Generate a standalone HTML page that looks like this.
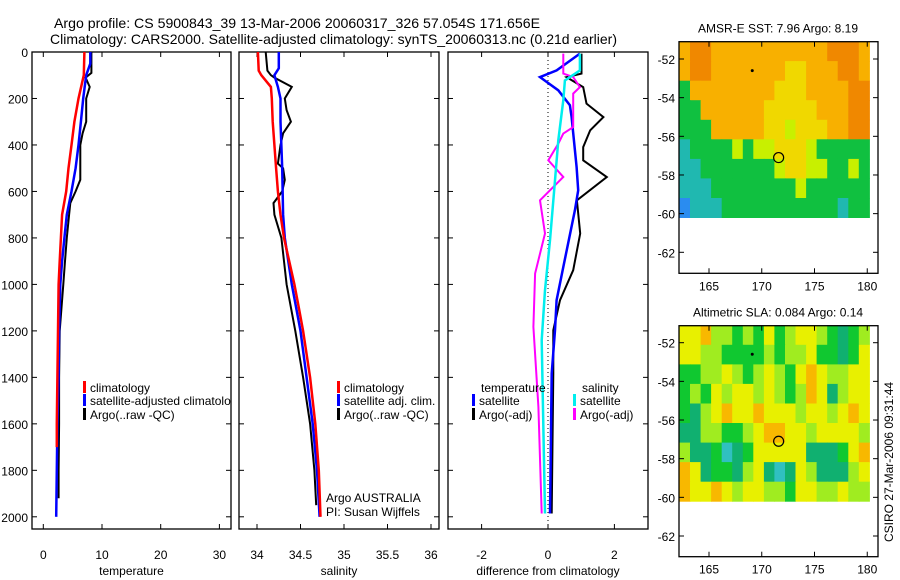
<!DOCTYPE html>
<html><head><meta charset="utf-8"><style>
body{margin:0;background:#fff;}
svg{display:block;font-family:"Liberation Sans",sans-serif;}
</style></head><body>
<svg id="fig" width="900" height="580" viewBox="0 0 900 580" xmlns="http://www.w3.org/2000/svg">
<defs><clipPath id="clip1"><rect x="32" y="52" width="199" height="477"/></clipPath></defs>
<text x="54" y="28" font-size="14" textLength="486" lengthAdjust="spacingAndGlyphs">Argo profile: CS 5900843_39 13-Mar-2006 20060317_326 57.054S 171.656E</text>
<text x="50" y="44" font-size="14" textLength="567" lengthAdjust="spacingAndGlyphs">Climatology: CARS2000. Satellite-adjusted climatology: synTS_20060313.nc (0.21d earlier)</text>
<text x="893" y="462" font-size="12" transform="rotate(-90 893 462)" text-anchor="middle">CSIRO 27-Mar-2006 09:31:44</text>
<g id="g"></g>
</svg>
<script>
// ---- profile data (depth in dbar) ----
const redTD=[0,100,200,300,400,500,600,700,800,900,1000,1200,1400,1600,1700];
const redT=[7.0,6.9,6.0,5.3,4.8,4.3,3.9,3.2,3.0,2.8,2.6,2.5,2.4,2.3,2.3];
const blueTD=[0,50,100,200,300,400,500,600,700,800,900,1000,1200,1400,1600,1800,2000];
const blueT=[8.0,8.0,7.3,6.8,6.4,6.0,5.5,4.8,4.0,3.6,3.2,2.9,2.7,2.6,2.4,2.3,2.2];
const blackTD=[0,90,110,150,200,300,350,400,500,550,600,650,700,800,900,1000,1200,1400,1600,1800,1920];
const blackT=[8.2,8.2,7.2,7.9,7.3,7.3,6.7,6.3,6.3,6.3,5.5,4.6,4.4,4.0,3.7,3.4,2.8,2.7,2.7,2.6,2.6];
const redSD=[0,80,100,150,200,300,400,500,600,700,800,900,1000,1100,1200,1400,1600,1800,2000];
const redS=[34.01,34.02,34.05,34.16,34.17,34.18,34.2,34.22,34.24,34.27,34.31,34.37,34.43,34.48,34.53,34.61,34.67,34.71,34.73];
const blueSD=[0,70,100,150,200,300,500,700,800,900,1000,1200,1400,1600,1800,2000];
const blueS=[34.25,34.25,34.2,34.24,34.27,34.27,34.29,34.3,34.32,34.36,34.4,34.5,34.57,34.64,34.69,34.72];
const blackSD=[0,80,100,110,150,200,250,300,350,400,480,500,550,600,650,700,800,900,1000,1200,1400,1600,1800,1950];
const blackS=[34.1,34.12,34.16,34.2,34.4,34.32,34.34,34.39,34.3,34.27,34.24,34.3,34.32,34.29,34.19,34.2,34.28,34.31,34.34,34.44,34.53,34.61,34.66,34.68];
const satTD=[7,79,108,165,229,280,495,595,681,925,1068,1197,1384,1986];
const satT=[0.96,0.26,-0.24,0.31,0.66,0.71,0.86,0.91,0.81,0.46,0.26,0.21,0.11,0.06];
const argoTD=[7,93,108,151,222,280,337,409,466,538,638,781,939,1068,1197,1384,1986];
const argoT=[1.01,1.01,0.56,1.06,1.16,1.67,1.27,1.06,1.06,1.77,0.87,0.97,0.76,0.36,0.16,0.16,0.11];
const satSD=[7,79,122,208,380,552,810,1025,1240,1986];
const satS=[0.96,0.96,0.51,0.46,0.31,0.21,0.06,-0.09,-0.19,-0.09];
const argoSD=[7,93,108,151,179,251,323,351,394,466,538,638,781,953,1183,1527,1986];
const argoS=[0.46,0.46,0.76,0.96,0.76,0.76,0.76,0.46,0.31,0.01,0.46,-0.24,-0.09,-0.39,-0.44,-0.29,-0.19];
const depthTicks=[0,200,400,600,800,1000,1200,1400,1600,1800,2000];
const tempTicks=[0,10,20,30];
const salTicks=[34,34.5,35,35.5,36];
const diffTicks=[-2,0,2];
// ---- map data ----
const sstGrid=[
[5,6,6,5,5,5,5,5,5,5,5,5,5,5,6,6,6,5],
[5,6,6,5,5,5,5,5,5,5,4,4,5,5,5,6,6,5],
[2,5,5,5,5,5,5,5,5,4,4,4,5,5,5,5,6,6],
[2,2,5,5,5,5,5,5,4,4,4,4,4,5,5,5,6,6],
[2,2,2,5,5,5,5,5,4,4,3,4,4,4,5,5,6,6],
[1,2,2,2,2,3,2,3,3,4,4,4,3,2,2,2,2,2],
[1,1,2,2,2,2,2,2,2,3,4,4,3,3,2,2,3,2],
[1,1,1,2,2,2,2,2,2,2,2,3,2,2,2,2,2,2],
[0,1,1,1,2,2,2,2,2,2,2,2,2,2,2,1,2,2]];
const slaGrid=[
[4,4,5,3,3,2,3,2,4,2,3,4,4,3,2,1,2,3],
[4,4,3,3,2,2,2,2,3,2,3,3,4,2,2,1,2,4],
[2,2,3,3,4,3,2,3,4,3,2,4,5,4,3,3,4,4],
[2,3,2,4,3,4,4,3,4,3,2,3,5,4,1,3,4,4],
[2,1,3,4,5,4,4,5,4,4,4,3,4,4,3,4,5,4],
[1,1,3,3,2,2,3,4,5,5,4,4,3,4,4,4,4,3],
[3,1,1,2,0,1,2,4,4,4,4,4,1,1,1,2,4,5],
[5,4,1,2,2,1,3,4,1,0,1,4,3,1,1,1,3,4],
[5,4,4,5,4,3,4,4,3,3,2,4,4,3,3,4,3,3]];
const sstPal=['#2a8cf0','#20b8b0','#10c040','#c8f000','#f0d800','#f8b000','#f08800'];
const slaPal=['#30c0c0','#10b070','#10c830','#a0ec20','#e8f000','#f8b800'];
const latTicks=[-52,-54,-56,-58,-60,-62];
const lonTicks=[165,170,175,180];
const floatPos=[171.6,-57.1];
const prevPos=[169.1,-52.6];

const NS='http://www.w3.org/2000/svg';
const G=document.getElementById('g');
function el(t,a,p){const e=document.createElementNS(NS,t);for(const k in a)e.setAttribute(k,a[k]);(p||G).appendChild(e);return e;}
const yD=d=>52+d*0.2324;

function panel(name,x0,x1,xs,xt,ylabels,xlabel){
  const g=el('g',{});
  
  
  const r=el('rect',{x:x0,y:52,width:x1-x0,height:477,fill:'none',stroke:'#000','stroke-width':1.3},g);
  
  
  depthTicks.forEach(d=>{
    const y=yD(d);
    el('line',{x1:x0,x2:x0+5,y1:y,y2:y,stroke:'#000'},g);
    el('line',{x1:x1-5,x2:x1,y1:y,y2:y,stroke:'#000'},g);
    if(ylabels){const t=el('text',{x:28,y:y+5,'font-size':12,'text-anchor':'end'},g);t.textContent=d;
      
      }
  });
  xt.forEach(v=>{
    const x=xs(v);
    el('line',{x1:x,x2:x,y1:52,y2:57,stroke:'#000'},g);
    el('line',{x1:x,x2:x,y1:524,y2:529,stroke:'#000'},g);
    const t=el('text',{x:x,y:559,'font-size':12,'text-anchor':'middle'},g);t.textContent=v;
    
    
  });
  const t=el('text',{x:(x0+x1)/2,y:575,'font-size':12,'text-anchor':'middle'},g);t.textContent=xlabel;
  
  
}
function line(xs,D,V,color,w,name){
  const p=D.map((d,i)=>xs(V[i]).toFixed(1)+','+yD(d).toFixed(1)).join(' ');
  const e=el('polyline',{points:p,fill:'none',stroke:color,'stroke-width':w});
  
  
}
function legend(x,y,color,label,name,clip){
  const r=el('rect',{x:x,y:y-11,width:3,height:12,fill:color});
  
  
  const t=el('text',{x:x+7,y:y,'font-size':12});t.textContent=label;
  if(clip)t.setAttribute('clip-path','url(#clip1)');
  
  
}
const xT=v=>43.3+v*5.87, xS=v=>257+(v-34)*87, xF=v=>548+v*33.2;
panel('temperature-panel',32,231,xT,tempTicks,true,'temperature');
panel('salinity-panel',239,439,xS,salTicks,false,'salinity');
panel('difference-panel',448,648,xF,diffTicks,false,'difference from climatology');
const z=el('line',{x1:548,x2:548,y1:52,y2:529,stroke:'#000','stroke-dasharray':'1,3'});


line(xT,blackTD,blackT,'#000',2,'argo-temperature-line');
line(xT,blueTD,blueT,'#00f',2.5,'satellite-temperature-line');
line(xT,redTD,redT,'#f00',2.5,'climatology-temperature-line');
line(xS,blackSD,blackS,'#000',2,'argo-salinity-line');
line(xS,blueSD,blueS,'#00f',2.5,'satellite-salinity-line');
line(xS,redSD,redS,'#f00',2.5,'climatology-salinity-line');
line(xF,argoTD,argoT,'#000',2,'argo-temp-diff-line');
line(xF,satTD,satT,'#00f',2.5,'satellite-temp-diff-line');
line(xF,argoSD,argoS,'#f0f',2,'argo-sal-diff-line');
line(xF,satSD,satS,'#0ee',2.5,'satellite-sal-diff-line');
legend(83,392,'#f00','climatology','legend-climatology',true);
legend(83,405,'#00f','satellite-adjusted climatology','legend-satellite-adjusted',true);
legend(83,419,'#000','Argo(..raw -QC)','legend-argo',true);
legend(337,392,'#f00','climatology','legend-sal-climatology');
legend(337,405,'#00f','satellite adj. clim.','legend-sal-satellite');
legend(337,419,'#000','Argo(..raw -QC)','legend-sal-argo');
[['Argo AUSTRALIA',502],['PI: Susan Wijffels',516]].forEach(a=>{const t=el('text',{x:326,y:a[1],'font-size':12});t.textContent=a[0];
  
  });
{const t=el('text',{x:481,y:392,'font-size':12});t.textContent='temperature';
  
  
 const u=el('text',{x:582,y:392,'font-size':12});u.textContent='salinity';
  
  }
legend(472,405,'#00f','satellite','legend-diff-temp-satellite');
legend(472,419,'#000','Argo(-adj)','legend-diff-temp-argo');
legend(573,405,'#0ee','satellite','legend-diff-sal-satellite');
legend(573,419,'#f0f','Argo(-adj)','legend-diff-sal-argo');

function map(name,top,bottom,y52,y62,grid,pal,title){
  const g=el('g',{});
  
  
  const lx=v=>709+(v-165)*10.55, ly=v=>y52+(v+52)*(y62-y52)/-10;
  const lon0=162.2,lat0=-51.1,dlon=1.0,dlat=9.1/grid.length;
  grid.forEach((row,i)=>row.forEach((v,j)=>{
    const x=lx(lon0+j*dlon), y=ly(lat0-i*dlat);
    const c=el('rect',{x:x.toFixed(1),y:y.toFixed(1),width:(10.55*dlon+0.5).toFixed(1),height:((y62-y52)/10*dlat+0.5).toFixed(1),fill:pal[v]},g);
    
    
  }));
  const f=el('rect',{x:679,y:top,width:199,height:bottom-top,fill:'none',stroke:'#000','stroke-width':1.3},g);
  
  
  latTicks.forEach(v=>{const y=ly(v);
    el('line',{x1:679,x2:684,y1:y,y2:y,stroke:'#000'},g);
    el('line',{x1:873,x2:878,y1:y,y2:y,stroke:'#000'},g);
    const t=el('text',{x:675,y:y+5,'font-size':12,'text-anchor':'end'},g);t.textContent=v;
    
    });
  lonTicks.forEach(v=>{const x=lx(v);
    el('line',{x1:x,x2:x,y1:top,y2:top+5,stroke:'#000'},g);
    el('line',{x1:x,x2:x,y1:bottom-5,y2:bottom,stroke:'#000'},g);
    const t=el('text',{x:x,y:bottom+17,'font-size':12,'text-anchor':'middle'},g);t.textContent=v;
    
    });
  const t=el('text',{x:778,y:top-9,'font-size':12,'text-anchor':'middle'},g);t.textContent=title;
  
  
  const c=el('circle',{cx:lx(floatPos[0]),cy:ly(floatPos[1]),r:5,fill:'none',stroke:'#000','stroke-width':1.2},g);
  
  
  const d=el('circle',{cx:lx(prevPos[0]),cy:ly(prevPos[1]),r:1.5,fill:'#000'},g);
  
  
}
map('sst-map',41.7,273.3,59,252.3,sstGrid,sstPal,'AMSR-E SST: 7.96 Argo: 8.19');
map('sla-map',325.7,556.7,342.7,536,slaGrid,slaPal,'Altimetric SLA: 0.084 Argo: 0.14');
</script>
</body></html>
